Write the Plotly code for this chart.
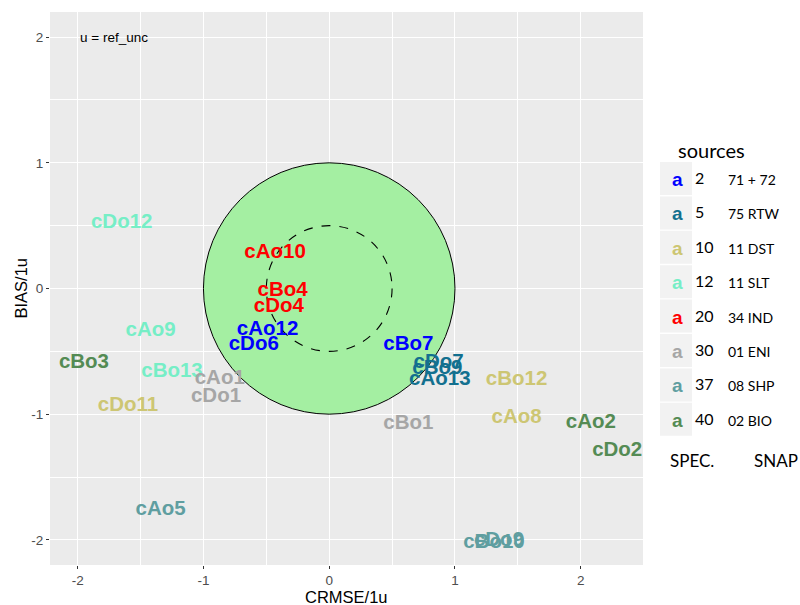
import plotly.graph_objects as go

# --- model evaluation points: centred RMSE vs bias, both scaled by the reference uncertainty
labels = ["cDo12", "cAo10", "cBo4", "cDo4", "cAo9", "cAo12", "cDo6", "cBo7",
          "cBo3", "cBo13", "cAo1", "cDo1", "cDo11", "cDo7", "cBo9", "cAo13",
          "cBo12", "cAo8", "cBo1", "cAo2", "cDo2", "cAo5", "cBo10", "cDo9"]
crmse = [-1.65, -0.43, -0.37, -0.40, -1.42, -0.49, -0.60, 0.63,
         -1.95, -1.25, -0.87, -0.90, -1.60, 0.87, 0.86, 0.88,
         1.49, 1.49, 0.63, 2.08, 2.29, -1.34, 1.31, 1.35]
bias = [0.52, 0.28, -0.02, -0.15, -0.34, -0.33, -0.45, -0.45,
        -0.59, -0.66, -0.72, -0.86, -0.93, -0.59, -0.64, -0.73,
        -0.73, -1.03, -1.08, -1.07, -1.29, -1.76, -2.02, -2.01]
source = [12, 20, 20, 20, 12, 2, 2, 2,
          40, 12, 30, 30, 10, 5, 5, 5,
          10, 10, 30, 40, 40, 37, 37, 37]

# --- axis ticks
tick_values = [-2, -1, 0, 1, 2]
tick_labels = ["-2", "-1", "0", "1", "2"]

# --- source legend
source_ids = [2, 5, 10, 12, 20, 30, 37, 40]
source_colors = ["#0000FF", "#13708F", "#CDC673", "#76EEC6",
                 "#FF0000", "#A6A6A6", "#5F9EA0", "#548B54"]
snap_names = ["71 + 72", "75 RTW", "11 DST", "11 SLT",
              "34 IND", "01 ENI", "08 SHP", "02 BIO"]

color_of = dict(zip(source_ids, source_colors))

W, H = 800, 605
L, R, T, B = 50, 157, 12, 40
PW, PH = W - L - R, H - T - B


def pxx(xp):
    return (xp - L) / PW


def pxy(yp):
    return (H - B - yp) / PH


fig = go.Figure()

fig.add_trace(go.Scatter(
    x=crmse, y=bias, text=labels, mode="text",
    textposition="middle center",
    textfont=dict(family="Liberation Sans", size=20.5, weight="bold",
                  color=[color_of[s] for s in source]),
    hoverinfo="skip", showlegend=False,
))

# target circles: outer (radius 1) filled, inner (radius 0.5) dashed
fig.add_shape(type="circle", xref="x", yref="y", x0=-1, x1=1, y0=-1, y1=1,
              fillcolor="#A4EFA2", line=dict(color="black", width=1),
              layer="between")
fig.add_shape(type="circle", xref="x", yref="y", x0=-0.5, x1=0.5, y0=-0.5, y1=0.5,
              fillcolor="rgba(0,0,0,0)", line=dict(color="black", width=1.1, dash="dash"),
              layer="between")

fig.add_annotation(x=-2, y=2, xref="x", yref="y", text="u = ref_unc",
                   showarrow=False, xanchor="left", yanchor="middle",
                   font=dict(family="Liberation Sans", size=13.5, color="black"))

# axis titles
fig.add_annotation(x=0.5, y=pxy(597), xref="paper", yref="paper", text="CRMSE/1u",
                   showarrow=False, xanchor="center", yanchor="middle",
                   font=dict(family="Liberation Sans", size=16.5, color="black"))
fig.add_annotation(x=pxx(20), y=0.5, xref="paper", yref="paper", text="BIAS/1u",
                   showarrow=False, xanchor="center", yanchor="middle", textangle=-90,
                   font=dict(family="Liberation Sans", size=16.5, color="black"))

# legend column
fig.add_annotation(x=pxx(711), y=pxy(150), xref="paper", yref="paper",
                   text="sources", showarrow=False, xanchor="center", yanchor="middle",
                   font=dict(family="Lato", size=20, color="black"))
for i, (sid, col, name) in enumerate(zip(source_ids, source_colors, snap_names)):
    top = 162 + 34.4 * i
    fig.add_shape(type="rect", xref="paper", yref="paper",
                  x0=pxx(660), x1=pxx(692), y0=pxy(top), y1=pxy(top + 33),
                  fillcolor="#F2F2F2", line=dict(width=0), layer="above")
    cy = top + 16.5
    fig.add_annotation(x=pxx(677), y=pxy(cy + 1), xref="paper", yref="paper",
                       text="a", showarrow=False, xanchor="center", yanchor="middle",
                       font=dict(family="Liberation Sans", size=19, weight="bold", color=col))
    fig.add_annotation(x=pxx(693), y=pxy(cy - 1), xref="paper", yref="paper",
                       text=str(sid), showarrow=False, xanchor="left", yanchor="middle",
                       font=dict(family="Lato", size=16, color="black"))
    fig.add_annotation(x=pxx(726), y=pxy(cy + 1), xref="paper", yref="paper",
                       text=name, showarrow=False, xanchor="left", yanchor="middle",
                       font=dict(family="Lato", size=14, color="black"))
fig.add_annotation(x=pxx(692), y=pxy(460), xref="paper", yref="paper",
                   text="SPEC.", showarrow=False, xanchor="center", yanchor="middle",
                   font=dict(family="Lato", size=17, color="black"))
fig.add_annotation(x=pxx(776), y=pxy(460), xref="paper", yref="paper",
                   text="SNAP", showarrow=False, xanchor="center", yanchor="middle",
                   font=dict(family="Lato", size=17, color="black"))

axis_common = dict(
    tickmode="array", tickvals=tick_values, ticktext=tick_labels,
    showgrid=True, gridcolor="white", gridwidth=1.3,
    zeroline=False, showline=False, automargin=False,
    ticks="outside", ticklen=3, tickcolor="#333333", tickwidth=1,
    tickfont=dict(family="Liberation Sans", size=13.5, color="#4D4D4D"),
    minor=dict(tickmode="linear", tick0=0.5, dtick=1, showgrid=True,
               gridcolor="white", gridwidth=0.6, ticks=""),
    fixedrange=True,
)

fig.update_xaxes(range=[-2.22, 2.495], **axis_common)
fig.update_yaxes(range=[-2.2, 2.2], **axis_common)

fig.update_layout(
    width=W, height=H,
    margin=dict(l=L, r=R, t=T, b=B, pad=0),
    paper_bgcolor="white", plot_bgcolor="#EBEBEB",
    showlegend=False,
)

fig.write_html("out.html")
